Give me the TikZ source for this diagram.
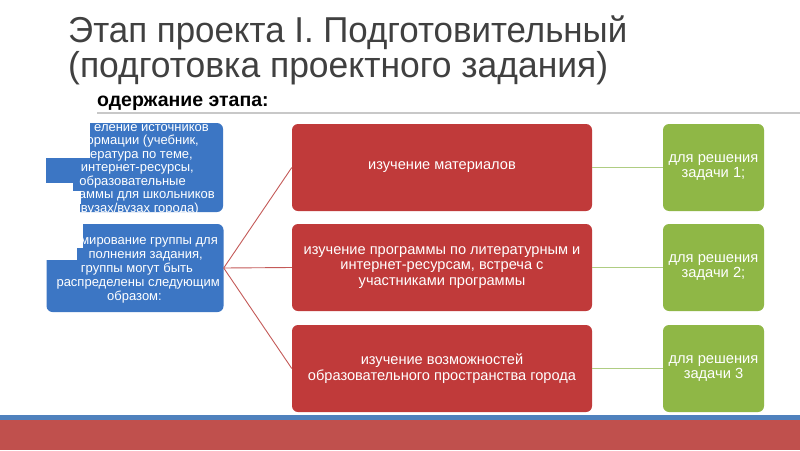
\documentclass[tikz,border=0pt]{standalone}
\usepackage{fontspec}
\setmainfont{Liberation Sans}
\usepackage{graphicx}
\definecolor{bluebox}{RGB}{60,118,196}
\definecolor{redbox}{RGB}{192,58,58}
\definecolor{greenbox}{RGB}{143,183,70}
\definecolor{redline}{RGB}{196,90,88}
\definecolor{greenline}{RGB}{175,205,130}
\definecolor{titlegray}{RGB}{64,64,64}
\definecolor{barblue}{RGB}{79,129,189}
\definecolor{barred}{RGB}{192,80,77}
\definecolor{rulegray}{RGB}{200,200,200}
\begin{document}
\begin{tikzpicture}[x=1pt,y=-1pt,
  redbx/.style={draw=none,fill=redbox,rounded corners=6pt,minimum width=300pt,minimum height=87pt,align=center,text=white,font=\fontsize{14.6}{15.5}\selectfont,inner sep=0pt},
  greenbx/.style={draw=none,fill=greenbox,rounded corners=6pt,minimum width=101pt,minimum height=87pt,align=center,text=white,font=\fontsize{14.7}{15}\selectfont,inner sep=0pt},
  bluebx/.style={draw=none,fill=bluebox,rounded corners=6pt,minimum width=177pt,minimum height=88pt,inner sep=0pt},
  blueline/.style={anchor=base east,inner sep=0pt,text=white,font=\fontsize{13}{13.5}\selectfont},
  mask/.style={fill=white,draw=none},
  redcon/.style={draw=redline,line width=0.9pt},
  greencon/.style={draw=greenline,line width=0.9pt}
]
\useasboundingbox (0,0) rectangle (800,450);
\fill[white] (0,0) rectangle (800,450);

% title
\node[anchor=base west,inner sep=0pt,text=titlegray,font=\fontsize{36}{40}\selectfont] (t1) at (68,42) {\resizebox{559pt}{\height}{Этап проекта I. Подготовительный}};
\node[anchor=base west,inner sep=0pt,text=titlegray,font=\fontsize{36}{40}\selectfont] (t2) at (68,77) {\resizebox{540pt}{\height}{(подготовка проектного задания)}};

% subtitle
\node[anchor=base west,inner sep=0pt,font=\bfseries\fontsize{19.5}{22}\selectfont] (sub) at (97,106) {одержание этапа:};
\draw[rulegray,line width=1.8pt] (97,113) -- (800,113);

% blue boxes
\node[bluebx,minimum height=89pt] (b1) at (134.5,167.5) {};
\node[bluebx] (b2) at (135,268) {};

\begin{scope}
\clip[rounded corners=6pt] (46,123) rectangle (223,212);
\node[blueline] at (209,131) {еление источников};
\node[blueline] at (199,144.5) {ормации (учебник,};
\node[blueline] at (193,158) {итература по теме,};
\node[blueline] at (194,171.5) {интернет-ресурсы,};
\node[blueline] at (186,185) {образовательные};
\node[blueline] at (215,198.5) {раммы для школьников};
\node[blueline] at (199,212) {вузах/вузах города)};
\end{scope}
\fill[mask] (40,115) rectangle (90,157.5);
\fill[mask] (40,183) rectangle (73,191);
\fill[mask] (40,191) rectangle (81,204);
\fill[mask] (40,204) rectangle (80,216);

\node[blueline] at (218,244) {мирование группы для};
\node[blueline] at (203,258) {полнения задания,};
\node[blueline] at (193,272) {группы могут быть};
\node[blueline] at (220,286) {распределены следующим};
\node[blueline] at (162,300) {образом:};
\fill[mask] (40,220) rectangle (83,248);
\fill[mask] (40,248) rectangle (77,260);

% red boxes
\node[redbx] (r1) at (442,167.5) {изучение материалов};
\node[redbx] (r2) at (442,267.5) {изучение программы по литературным и\\интернет-ресурсам, встреча с\\участниками программы};
\node[redbx] (r3) at (442,368.5) {изучение возможностей\\образовательного пространства города};

% green boxes
\node[greenbx] (g1) at (713.5,167.5) {для решения\\задачи 1;};
\node[greenbx] (g2) at (713.5,267.5) {для решения\\задачи 2;};
\node[greenbx] (g3) at (713.5,368.5) {для решения\\задачи 3};

% connectors
\draw[redcon] (b2.east) -- (r1.west);
\draw[redcon] (b2.east) -- (r2.west);
\draw[redcon] (b2.east) -- (r3.west);
\draw[greencon] (r1.east) -- (g1.west);
\draw[greencon] (r2.east) -- (g2.west);
\draw[greencon] (r3.east) -- (g3.west);

% bottom bars
\fill[barblue] (0,415) rectangle (800,420);
\fill[barred] (0,420) rectangle (800,450);
\end{tikzpicture}
\end{document}
